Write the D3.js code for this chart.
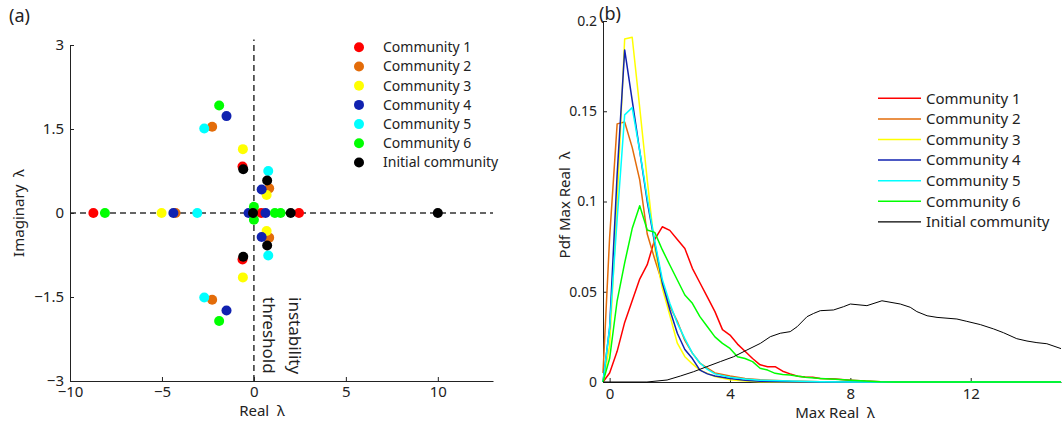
<!DOCTYPE html>
<html>
<head>
<meta charset="utf-8">
<script src="https://cdn.jsdelivr.net/npm/d3@7"></script>
<style>
  body { margin: 0; background: #fff; }
  text { font-family: "Noto Sans", "Open Sans", sans-serif; fill: #222; }
</style>
</head>
<body>
<svg id="fig"></svg>
<script>
// names + colours, shared by both panels
const communities = ["Community 1", "Community 2", "Community 3", "Community 4",
                     "Community 5", "Community 6", "Initial community"];
const colours = ["#ff0000", "#e36c0a", "#ffff00", "#1022b0", "#00ffff", "#00ff00", "#000000"];

// (a) eigenvalues [real, imaginary]
const eigC1 = [[-8.73, 0], [-0.62, 0.83], [-0.62, -0.83], [0.40, 0], [2.45, 0]];
const eigC2 = [[-4.26, 0], [-2.27, 1.54], [-2.27, -1.55], [0.83, 0.44], [0.83, -0.44]];
const eigC3 = [[-5.02, 0], [-0.60, 1.14], [-0.60, -1.15], [0.69, 0.32], [0.69, -0.32]];
const eigC4 = [[-4.38, 0], [-1.49, 1.73], [-1.49, -1.74], [-0.29, 0], [0.42, 0.42], [0.42, -0.43], [0.63, 0]];
const eigC5 = [[-3.08, 0], [-2.70, 1.51], [-2.70, -1.51], [0.78, 0.75], [0.78, -0.76]];
const eigC6 = [[-8.10, 0], [-1.89, 1.92], [-1.89, -1.93], [0, 0.11], [0, -0.12], [1.14, 0], [1.45, 0]];
const eigInit = [[-0.58, 0.78], [-0.58, -0.78], [-0.05, 0], [0.72, 0.58], [0.72, -0.58], [2.0, 0], [10.0, 0]];

const xTicksA = [-10, -5, 0, 5, 10];
const yTicksA = [3, 1.5, 0, -1.5, -3];

// (b) pdf of max real eigenvalue [x, pdf]
const pdfC1 = [[-0.22, 0], [0, 0.005], [0.25, 0.017], [0.5, 0.033], [0.75, 0.045], [1.0, 0.057], [1.25, 0.065],
  [1.5, 0.079], [1.75, 0.086], [2.0, 0.084], [2.25, 0.079], [2.5, 0.074], [2.75, 0.063], [3.0, 0.055],
  [3.25, 0.047], [3.5, 0.039], [3.75, 0.029], [4.0, 0.026], [4.25, 0.021], [4.5, 0.017], [4.75, 0.013],
  [5.0, 0.0095], [5.25, 0.0085], [5.5, 0.0085], [5.75, 0.006], [6.0, 0.0045], [6.25, 0.0032], [6.5, 0.0028],
  [6.75, 0.0026], [7.0, 0.002], [7.5, 0.0016], [8.0, 0.001], [8.5, 0.0005], [9.0, 0.0002], [9.5, 0], [15, 0]];
const pdfC2 = [[-0.22, 0.005], [0, 0.08], [0.25, 0.143], [0.5, 0.144], [0.75, 0.130], [1.0, 0.112], [1.25, 0.082],
  [1.5, 0.068], [1.75, 0.055], [2.0, 0.042], [2.25, 0.0336], [2.5, 0.023], [2.75, 0.016], [3.0, 0.0105],
  [3.25, 0.0077], [3.5, 0.005], [4.0, 0.0033], [4.5, 0.002], [5.0, 0.0012], [6.0, 0.0005], [7.0, 0.0002], [8.0, 0], [15, 0]];
const pdfC3 = [[-0.22, 0], [0, 0.02], [0.25, 0.10], [0.5, 0.190], [0.75, 0.191], [1.0, 0.152], [1.25, 0.112],
  [1.5, 0.074], [1.75, 0.052], [2.0, 0.037], [2.25, 0.0215], [2.5, 0.014], [2.75, 0.010], [3.0, 0.0066],
  [3.5, 0.003], [4.0, 0.0013], [4.5, 0.0005], [5.0, 0.0002], [6.0, 0], [15, 0]];
const pdfC4 = [[-0.22, 0], [0, 0.03], [0.25, 0.115], [0.5, 0.184], [0.75, 0.156], [1.0, 0.128], [1.25, 0.10],
  [1.5, 0.077], [1.75, 0.055], [2.0, 0.040], [2.25, 0.027], [2.5, 0.018], [2.75, 0.013], [3.0, 0.0066],
  [3.25, 0.0045], [3.5, 0.0033], [4.0, 0.002], [4.5, 0.001], [5.0, 0.0004], [6.0, 0.0001], [7.0, 0], [15, 0]];
const pdfC5 = [[-0.22, 0], [0, 0.03], [0.25, 0.09], [0.5, 0.148], [0.75, 0.152], [1.0, 0.128], [1.25, 0.102],
  [1.5, 0.078], [1.75, 0.057], [2.0, 0.0436], [2.25, 0.0326], [2.5, 0.024], [2.75, 0.016], [3.0, 0.0105],
  [3.25, 0.007], [3.5, 0.0045], [4.0, 0.0026], [4.5, 0.0017], [5.0, 0.001], [6.0, 0.0005], [7.0, 0.0002], [8.0, 0], [15, 0]];
const pdfC6 = [[-0.22, 0], [0, 0.013], [0.25, 0.045], [0.5, 0.066], [0.75, 0.085], [1.0, 0.0977], [1.25, 0.0842],
  [1.5, 0.0829], [1.75, 0.0733], [2.0, 0.0648], [2.25, 0.0565], [2.5, 0.0482], [2.75, 0.0436], [3.0, 0.0362],
  [3.25, 0.0306], [3.5, 0.025], [3.75, 0.0214], [4.0, 0.0186], [4.25, 0.014], [4.5, 0.013], [4.75, 0.0113],
  [5.0, 0.0076], [5.25, 0.0066], [5.5, 0.0048], [5.75, 0.0042], [6.0, 0.0039], [6.5, 0.0026], [7.0, 0.002],
  [7.5, 0.0015], [8.0, 0.001], [8.5, 0.0006], [9.0, 0.0002], [9.5, 0], [15, 0]];
const pdfInit = [[-0.22, 0], [1.24, 0], [1.91, 0.0011], [2.35, 0.0033], [2.79, 0.0057], [3.23, 0.0085], [3.68, 0.0113],
  [4.12, 0.014], [4.56, 0.0177], [5.01, 0.0214], [5.34, 0.0251], [5.67, 0.027], [6.0, 0.0279], [6.23, 0.0306],
  [6.56, 0.0362], [6.78, 0.038], [7.0, 0.0395], [7.44, 0.0399], [7.77, 0.0417], [8.0, 0.0432], [8.55, 0.0423],
  [9.05, 0.045], [9.66, 0.0432], [9.99, 0.0414], [10.21, 0.039], [10.55, 0.0367], [10.88, 0.0358], [11.54, 0.0349],
  [11.87, 0.0336], [12.32, 0.0318], [12.76, 0.0294], [13.09, 0.0273], [13.53, 0.024], [13.87, 0.0227],
  [14.2, 0.0218], [14.53, 0.0212], [15.0, 0.0185]];

const xTicksB = [0, 4, 8, 12];
const yTicksB = [0, 0.05, 0.1, 0.15, 0.2];

const eigAll = [eigC1, eigC2, eigC3, eigC4, eigC5, eigC6, eigInit];
const pdfAll = [pdfC1, pdfC2, pdfC3, pdfC4, pdfC5, pdfC6, pdfInit];

const W = 1062, H = 440;
const svg = d3.select("#fig").attr("width", W).attr("height", H);
const fmt = d3.format("~g");

// ---------- panel (a) ----------
const xA = d3.scaleLinear().domain([-10, 13]).range([70, 493]);
const yA = d3.scaleLinear().domain([-3, 3]).range([381, 45]);

const gA = svg.append("g");

// threshold lines
gA.append("line")
  .attr("x1", xA(-10)).attr("x2", xA(13))
  .attr("y1", yA(0)).attr("y2", yA(0))
  .attr("stroke", "#333").attr("stroke-width", 1.4).attr("stroke-dasharray", "6,4");
gA.append("line")
  .attr("x1", xA(0)).attr("x2", xA(0))
  .attr("y1", yA(-3)).attr("y2", yA(3.1))
  .attr("stroke", "#222").attr("stroke-width", 1.4).attr("stroke-dasharray", "6,4");

gA.append("g")
  .attr("class", "ax")
  .attr("transform", `translate(0,${yA(-3)})`)
  .call(d3.axisBottom(xA).tickValues(xTicksA).tickFormat(fmt).tickSize(-4).tickSizeOuter(0).tickPadding(5));
gA.append("g")
  .attr("class", "ax")
  .attr("transform", `translate(${xA(-10)},0)`)
  .call(d3.axisLeft(yA).tickValues(yTicksA).tickFormat(fmt).tickSize(-4).tickSizeOuter(0).tickPadding(6));

eigAll.forEach((pts, i) => {
  gA.append("g").selectAll("circle")
    .data(pts)
    .enter()
    .append("circle")
      .attr("cx", d => xA(d[0]))
      .attr("cy", d => yA(d[1]))
      .attr("r", 5)
      .attr("fill", colours[i]);
});

// instability threshold note
gA.append("text")
  .attr("transform", `translate(${xA(0) + 35},${yA(-1.5)}) rotate(90)`)
  .style("font-size", "17px")
  .text("instability");
gA.append("text")
  .attr("transform", `translate(${xA(0) + 9.5},${yA(-1.5)}) rotate(90)`)
  .style("font-size", "17px")
  .text("threshold");

// legend (a)
const legA = gA.append("g");
communities.forEach((name, i) => {
  const yy = 47.3 + i * 19.2;
  legA.append("circle").attr("cx", 359).attr("cy", yy).attr("r", 5).attr("fill", colours[i]);
  legA.append("text").attr("x", 383).attr("y", yy).attr("dy", "0.35em")
    .style("font-size", "14px").text(name);
});

gA.append("text").attr("x", 262).attr("y", 416).attr("text-anchor", "middle")
  .style("font-size", "15px").text("Real\u00a0\u00a0λ");
gA.append("text").attr("transform", `translate(24,${yA(0)}) rotate(-90)`).attr("text-anchor", "middle")
  .style("font-size", "15px").text("Imaginary\u00a0\u00a0λ");
svg.append("text").attr("x", 9).attr("y", 22).style("font-size", "18px").text("(a)");

// ---------- panel (b) ----------
const xB = d3.scaleLinear().domain([-0.22, 15]).range([603, 1061]);
const yB = d3.scaleLinear().domain([0, 0.2]).range([382, 21]);

const gB = svg.append("g");

gB.append("g")
  .attr("class", "ax")
  .attr("transform", `translate(0,${yB(0)})`)
  .call(d3.axisBottom(xB).tickValues(xTicksB).tickFormat(fmt).tickSize(-4).tickSizeOuter(0).tickPadding(6));
gB.append("g")
  .attr("class", "ax axB")
  .attr("transform", `translate(${xB(-0.22)},0)`)
  .call(d3.axisLeft(yB).tickValues(yTicksB).tickFormat(fmt).tickSize(-4).tickSizeOuter(0).tickPadding(6));

const line = d3.line().x(d => xB(d[0])).y(d => yB(d[1]));

pdfAll.forEach((pts, i) => {
  gB.append("path")
    .datum(pts)
    .attr("d", line)
    .attr("fill", "none")
    .attr("stroke", colours[i])
    .attr("stroke-width", i == 6 ? 1 : 1.5)
    .attr("stroke-linejoin", "round");
});

// legend (b)
const legB = gB.append("g");
communities.forEach((name, i) => {
  const yy = 98.3 + i * 20.6;
  legB.append("line").attr("x1", 878).attr("x2", 921).attr("y1", yy).attr("y2", yy)
    .attr("stroke", colours[i]).attr("stroke-width", i == 6 ? 1.2 : 1.5);
  legB.append("text").attr("x", 926).attr("y", yy).attr("dy", "0.35em")
    .style("font-size", "15px").text(name);
});

gB.append("text").attr("x", 835).attr("y", 418).attr("text-anchor", "middle")
  .style("font-size", "15px").text("Max Real\u00a0\u00a0λ");
gB.append("text").attr("transform", `translate(570,205) rotate(-90)`).attr("text-anchor", "middle")
  .style("font-size", "15px").text("Pdf Max Real\u00a0\u00a0λ");
svg.append("text").attr("x", 599).attr("y", 20).style("font-size", "18px").text("(b)");

svg.selectAll(".domain").attr("stroke", "#222");
svg.selectAll(".tick line").attr("stroke", "#222");
svg.selectAll(".ax .tick text").style("font-size", "15px").attr("fill", "#222");
svg.selectAll(".axB .tick text").style("font-size", "14px");
</script>
</body>
</html>
